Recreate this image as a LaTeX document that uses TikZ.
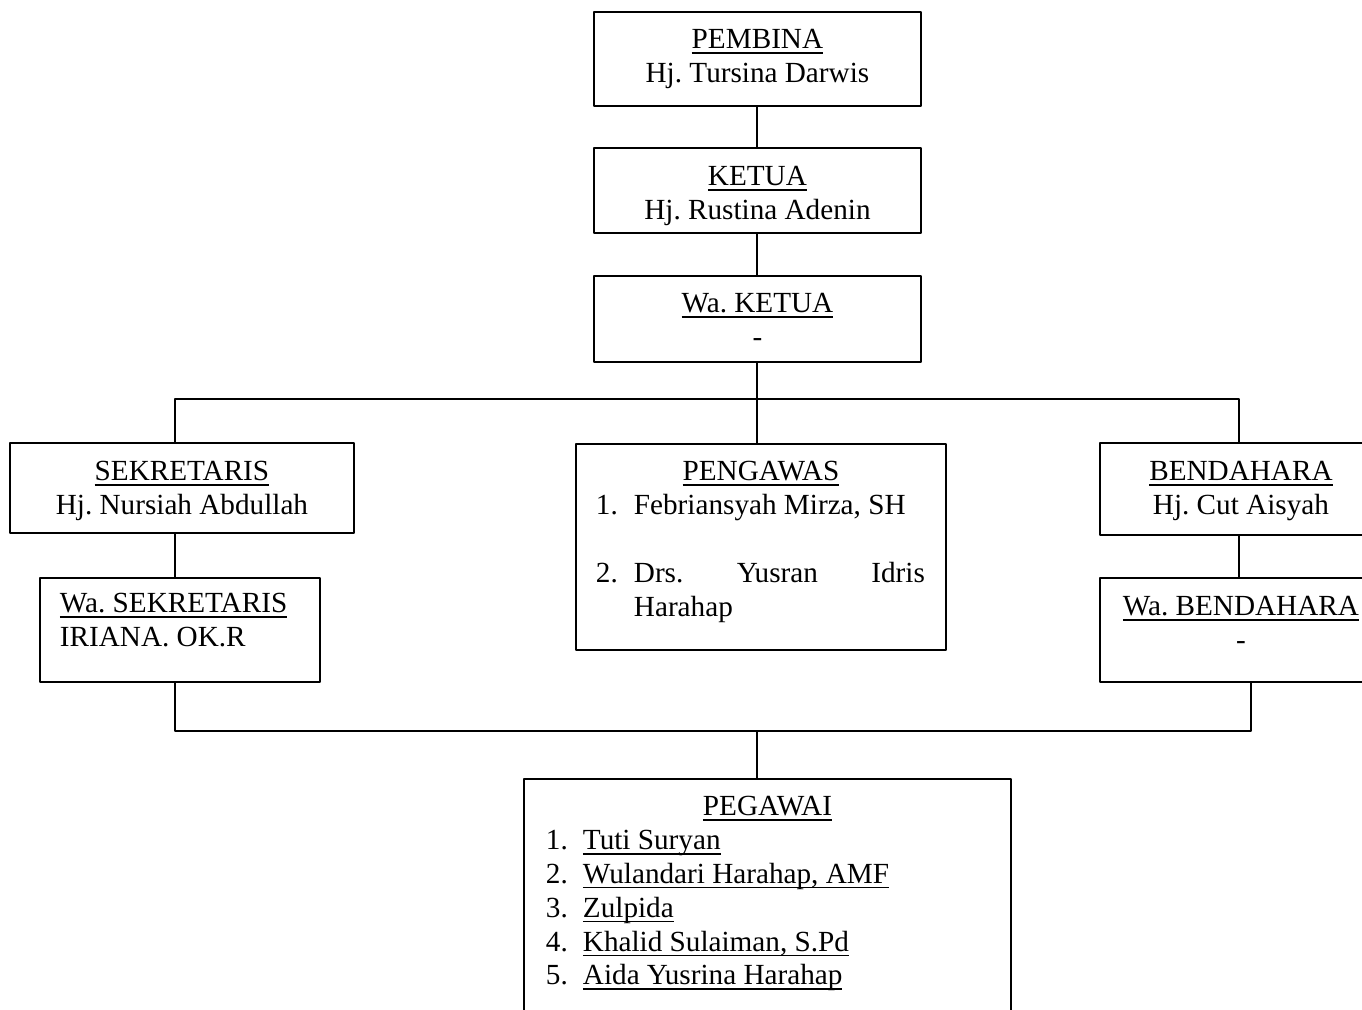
\documentclass[tikz,border=0pt]{standalone}
\usepackage{fontspec}
\setmainfont{Liberation Serif}
\frenchspacing
\newcommand{\garis}[1]{\setbox0\hbox{#1}\rlap{\rule[-2.4pt]{\wd0}{0.7pt}}\box0}
\begin{document}
\begin{tikzpicture}[x=.5pt, y=-.5pt, line join=round, line width=.95pt, font=\fontsize{14.6pt}{16.9pt}\selectfont, kotak/.style={draw, inner sep=0pt, anchor=north west}]
	\useasboundingbox (0,0) rectangle (1362,1009);
	\clip (0,0) rectangle (1362,1009);
	\node[kotak] (pembina) at (593,11) {\parbox[t][47pt][t]{163.5pt}{\centering\rule{0pt}{18.5pt}\garis{PEMBINA}\\Hj. Tursina Darwis}};
	\node[kotak] (ketua) at (593,147) {\parbox[t][42.5pt][t]{163.5pt}{\centering\rule{0pt}{19pt}\garis{KETUA}\\Hj. Rustina Adenin}};
	\node[kotak] (waketua) at (593,275) {\parbox[t][43pt][t]{163.5pt}{\centering\rule{0pt}{18.5pt}\garis{Wa. KETUA}\\-}};
	\node[kotak] (sekretaris) at (9,442) {\parbox[t][45pt][t]{172pt}{\centering\rule{0pt}{19pt}\garis{SEKRETARIS}\\Hj. Nursiah Abdullah}};
	\node[kotak] (wasekretaris) at (39,577) {\parbox[t][52pt][t]{140pt}{\rule{0pt}{17.5pt}\hspace*{10pt}\garis{Wa. SEKRETARIS}\\\hspace*{10pt}IRIANA. OK.R}};
	\node[kotak] (pengawas) at (575,443) {\parbox[t][103pt][t]{185pt}{\rule{0pt}{18.5pt}\makebox[\linewidth]{\garis{PENGAWAS}}\\
		\hspace*{10pt}\makebox[19pt][l]{1.}Febriansyah Mirza, SH\\[16.9pt]
		\hspace*{10pt}\makebox[19pt][l]{2.}\parbox[t]{145.5pt}{Drs.\hfill Yusran\hfill Idris\\Harahap}}};
	\node[kotak] (bendahara) at (1099,442) {\parbox[t][46pt][t]{141pt}{\centering\rule{0pt}{19pt}\garis{BENDAHARA}\\Hj. Cut Aisyah}};
	\node[kotak] (wabendahara) at (1099,577) {\parbox[t][52pt][t]{141pt}{\centering\rule{0pt}{19pt}\garis{Wa. BENDAHARA}\\-}};
	\node[kotak] (pegawai) at (523,778) {\parbox[t][125pt][t]{243.5pt}{\rule{0pt}{18.5pt}\makebox[\linewidth]{\garis{PEGAWAI}}%
		\foreach \i/\nama in {1/Tuti Suryan, {2/Wulandari Harahap, AMF}, 3/Zulpida, {4/Khalid Sulaiman, S.Pd}, 5/Aida Yusrina Harahap}{\\\hspace*{11pt}\makebox[18.5pt][l]{\i.}\garis{\nama}}}};
	% garis penghubung
	\path (175,399) coordinate (KA) (757,399) coordinate (TA) (1239,399) coordinate (NA) (175,731) coordinate (KB) (757,731) coordinate (TB) (1251,731) coordinate (NB);
	\draw (TA |- pembina.south) -- (TA |- ketua.north) (TA |- ketua.south) -- (TA |- waketua.north) (TA |- waketua.south) -- (TA);
	\draw (KA |- sekretaris.north) -- (KA) -- (NA) -- (NA |- bendahara.north) (TA) -- (TA |- pengawas.north);
	\draw (KA |- sekretaris.south) -- (KA |- wasekretaris.north) (NA |- bendahara.south) -- (NA |- wabendahara.north);
	\draw (KA |- wasekretaris.south) -- (KB) -- (NB) -- (NB |- wabendahara.south) (TB) -- (TB |- pegawai.north);
\end{tikzpicture}
\end{document}
